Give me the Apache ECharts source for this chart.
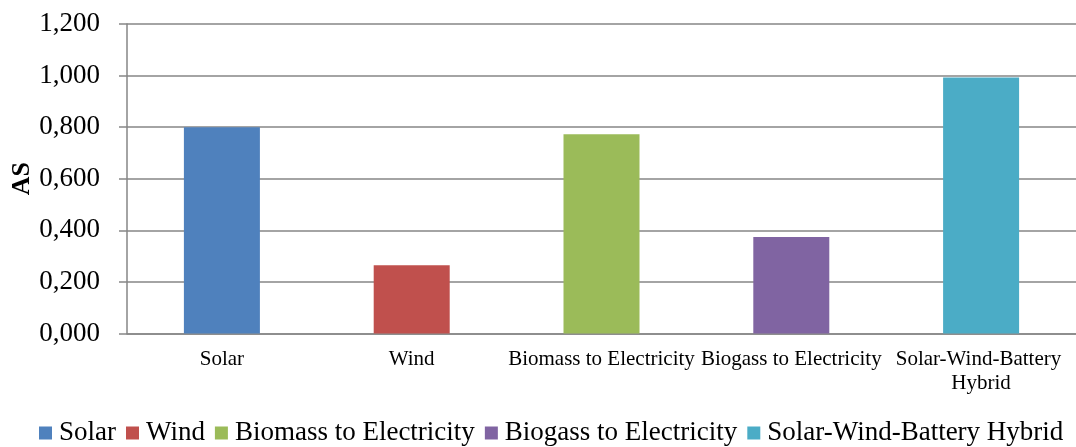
<!DOCTYPE html>
<html>
<head>
<meta charset="utf-8">
<script src="https://cdn.jsdelivr.net/npm/echarts@6/dist/echarts.min.js"></script>
<style>
  html, body { margin: 0; padding: 0; background: #ffffff; }
  #chart { width: 1076px; height: 447px; }
</style>
</head>
<body>
<div id="chart"></div>
<script>
// Technologies on the category axis
const categories = ['Solar', 'Wind', 'Biomass to Electricity', 'Biogass to Electricity', 'Solar-Wind-Battery Hybrid'];
// AS score of each technology
const asValues = [0.800, 0.265, 0.773, 0.374, 0.993];
// One colour per technology
const colors = ['#4F81BD', '#C0504D', '#9BBB59', '#8064A2', '#4BACC6'];
// Value axis range
const yMin = 0;
const yMax = 1.2;
const yStep = 0.2;

const FONT = "'Liberation Serif', 'Times New Roman', serif";

// Each technology is its own series so the legend lists all five;
// a shared stack keeps each bar centred on its category.
const series = categories.map((name, i) => ({
  name: name,
  type: 'bar',
  stack: 'as',
  barWidth: 76,
  itemStyle: { color: colors[i] },
  data: categories.map((_, j) => (j === i ? asValues[i] : '-'))
}));

const chart = echarts.init(document.getElementById('chart'), null, { renderer: 'canvas' });
chart.setOption({
  animation: false,
  backgroundColor: '#ffffff',
  color: colors,
  textStyle: { fontFamily: FONT },
  grid: {
    left: 127, right: 0, top: 24, bottom: 113.5,
    containLabel: false,
    outerBoundsMode: 'none'
  },
  legend: {
    top: 419,
    left: 39,
    padding: 0,
    icon: 'rect',
    itemWidth: 13,
    itemHeight: 13,
    itemGap: 10,
    textStyle: {
      fontFamily: FONT, fontSize: 27, lineHeight: 28, color: '#000000',
      padding: [0, 0, 0, 2]
    },
    data: categories
  },
  xAxis: {
    type: 'category',
    data: categories,
    axisLine: { lineStyle: { color: '#868686', width: 1.5 } },
    axisTick: { show: false },
    axisLabel: {
      interval: 0,
      margin: 14,
      width: 190,
      overflow: 'break',
      lineHeight: 24,
      fontFamily: FONT,
      fontSize: 21,
      color: '#000000'
    }
  },
  yAxis: {
    type: 'value',
    min: yMin,
    max: yMax,
    interval: yStep,
    name: 'AS',
    nameLocation: 'middle',
    nameRotate: 90,
    nameGap: 92,
    nameMoveOverlap: false,
    nameTextStyle: { fontFamily: FONT, fontSize: 26, fontWeight: 'bold', color: '#000000' },
    axisLine: { show: true, lineStyle: { color: '#868686', width: 1.5 } },
    axisTick: { show: true, length: 8, lineStyle: { color: '#868686', width: 1.5 } },
    splitLine: { lineStyle: { color: '#868686', width: 1.5 } },
    axisLabel: {
      margin: 27,
      fontFamily: FONT,
      fontSize: 27,
      color: '#000000',
      formatter: v => v.toFixed(3).replace('.', ',')
    }
  },
  series: series
});
</script>
</body>
</html>
